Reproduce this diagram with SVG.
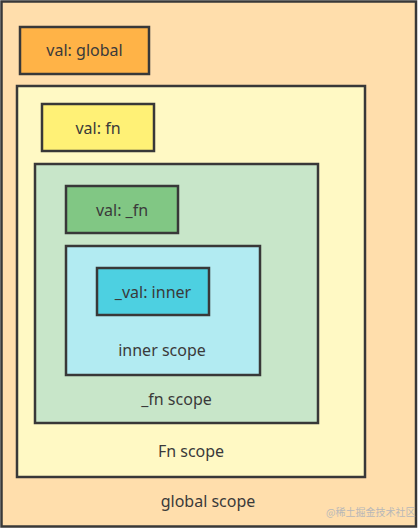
<svg xmlns="http://www.w3.org/2000/svg" width="418" height="529" viewBox="0 0 418 529">
<style>
rect{stroke:#383838;stroke-width:2.5}
text{font-family:"Noto Sans","Open Sans",sans-serif;font-size:16px;fill:#3a3a3a;text-anchor:middle;dominant-baseline:central}
.wm{font-family:"Noto Sans CJK SC",sans-serif;font-size:10px;fill:#b8b8b8;text-anchor:start}
</style>
<g id="global-scope">
<rect x="1.5" y="1.5" width="414.5" height="525" fill="#ffdeac"/>
<text x="208" y="501">global scope</text>
</g>
<g id="val-global">
<rect x="20" y="27" width="129" height="47" fill="#ffb347"/>
<text x="84.5" y="50">val: global</text>
</g>
<g id="fn-scope">
<rect x="17" y="86" width="348" height="391" fill="#fff9c4"/>
<text x="191" y="451">Fn scope</text>
</g>
<g id="val-fn">
<rect x="42" y="104" width="112" height="47" fill="#fff176"/>
<text x="98" y="127.5">val: fn</text>
</g>
<g id="_fn-scope">
<rect x="35" y="164" width="283" height="259" fill="#c8e6c9"/>
<text x="176.5" y="399">_fn scope</text>
</g>
<g id="val-_fn">
<rect x="66" y="186" width="112" height="47" fill="#81c784"/>
<text x="122" y="209.5">val: _fn</text>
</g>
<g id="inner-scope">
<rect x="66" y="246" width="194" height="129" fill="#b2ebf2"/>
<text x="162" y="350">inner scope</text>
</g>
<g id="_val-inner">
<rect x="97" y="268" width="112" height="47" fill="#4dd0e1"/>
<text x="153" y="291.5">_val: inner</text>
</g>
<g id="connectors"/>
<text class="wm" x="326" y="511">@稀土掘金技术社区</text>
</svg>
